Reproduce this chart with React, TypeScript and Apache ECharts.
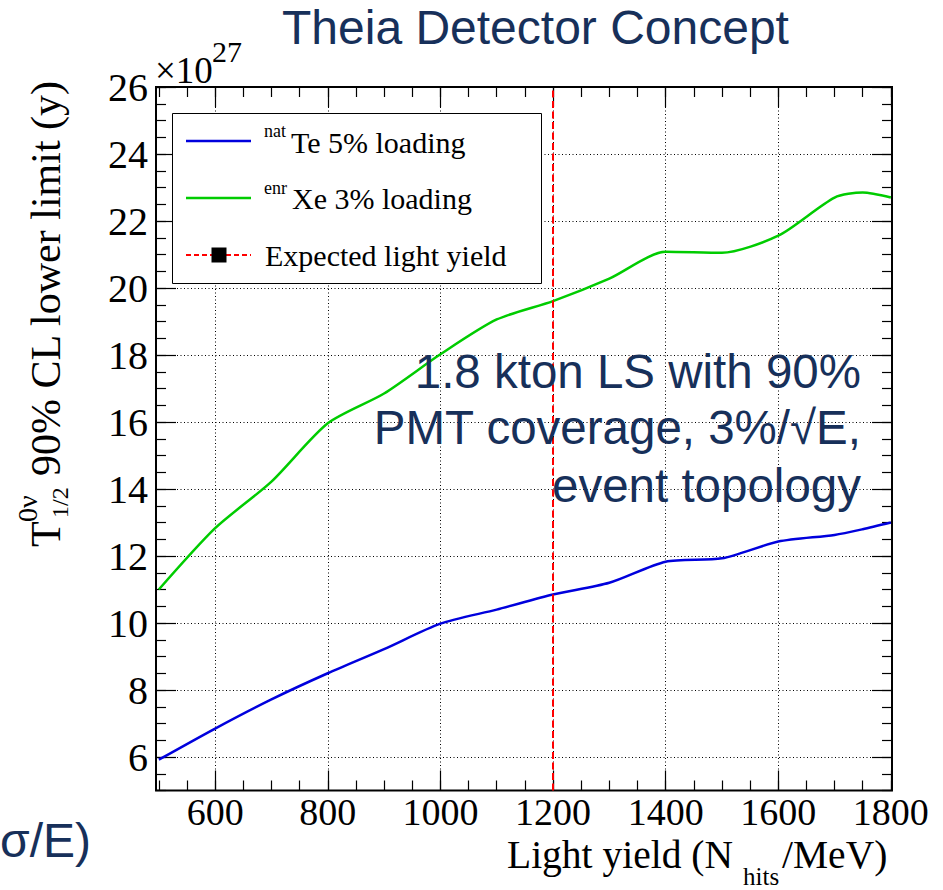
import React, { useEffect, useRef } from 'react';
import * as echarts from 'echarts';

// ---------------- data ----------------
const lightYield = [500, 600, 700, 800, 900, 1000, 1100, 1200, 1300, 1400, 1500, 1600, 1700, 1750, 1800];
const teLoading = [5.92, 6.85, 7.72, 8.5, 9.22, 9.98, 10.4, 10.85, 11.2, 11.83, 11.93, 12.43, 12.63, 12.8, 13.0];
const xeLoading = [11.0, 12.83, 14.22, 15.96, 16.85, 18.02, 19.06, 19.61, 20.28, 21.08, 21.05, 21.56, 22.7, 22.85, 22.7];
const expectedLightYield = 1200;
const expectedSpan = [5, 26];

const xMajorTicks = [600, 800, 1000, 1200, 1400, 1600, 1800];
const xMinorTicks = [500, 550, 600, 650, 700, 750, 800, 850, 900, 950, 1000, 1050, 1100, 1150, 1200, 1250, 1300, 1350, 1400, 1450, 1500, 1550, 1600, 1650, 1700, 1750, 1800];
const yMajorTicks = [6, 8, 10, 12, 14, 16, 18, 20, 22, 24, 26];
const yMinorTicks = [5, 5.5, 6, 6.5, 7, 7.5, 8, 8.5, 9, 9.5, 10, 10.5, 11, 11.5, 12, 12.5, 13, 13.5, 14, 14.5, 15, 15.5, 16, 16.5, 17, 17.5, 18, 18.5, 19, 19.5, 20, 20.5, 21, 21.5, 22, 22.5, 23, 23.5, 24, 24.5, 25, 25.5, 26];
const xGridLines = [600, 800, 1000, 1200, 1400, 1600];
const yGridLines = [6, 8, 10, 12, 14, 16, 18, 20, 22, 24];

const X_MIN = 495;
const X_MAX = 1802;
const Y_MIN = 5;
const Y_MAX = 26;

const serif = '"Liberation Serif", "Times New Roman", serif';
const sans = '"Liberation Sans", Arial, sans-serif';
const navy = '#17305a';

function xAxisDef(position: string, ticks: number[], len: number, labels: boolean) {
  return {
    type: 'value',
    min: X_MIN,
    max: X_MAX,
    position,
    axisLine: { show: false },
    splitLine: { show: false },
    axisTick: { show: true, inside: true, length: len, customValues: ticks, lineStyle: { color: '#000', width: 1.2 } },
    axisLabel: labels
      ? {
          show: true,
          customValues: ticks,
          margin: 6.5,
          fontSize: 38,
          lineHeight: 30,
          fontFamily: serif,
          color: '#000',
          formatter: (v: number) => String(v),
        }
      : { show: false },
  };
}

function yAxisDef(position: string, ticks: number[], len: number, labels: boolean) {
  return {
    type: 'value',
    min: Y_MIN,
    max: Y_MAX,
    position,
    axisLine: { show: false },
    splitLine: { show: false },
    axisTick: { show: true, inside: true, length: len, customValues: ticks, lineStyle: { color: '#000', width: 1.2 } },
    axisLabel: labels
      ? {
          show: true,
          customValues: ticks,
          margin: 8,
          fontSize: 40,
          lineHeight: 32,
          fontFamily: serif,
          color: '#000',
          padding: [5, 0, 0, 0],
          formatter: (v: number) => String(v),
        }
      : { show: false },
  };
}

function txt(text: string, x: number, y: number, size: number, family: string, color: string, align = 'left', rotation = 0, lineHeight?: number) {
  return {
    type: 'text',
    x,
    y,
    rotation,
    silent: true,
    z: 20,
    style: {
      text,
      fontSize: size,
      fontFamily: family,
      fill: color,
      align,
      verticalAlign: 'middle',
      lineHeight: lineHeight || Math.round(size * 1.1),
    },
  };
}

export default function App() {
  const ref = useRef<HTMLDivElement>(null);

  useEffect(() => {
    if (!ref.current) return;
    const chart = echarts.init(ref.current, null, { renderer: 'svg' });
    const R = Math.PI / 2;

    const option: any = {
      animation: false,
      backgroundColor: '#fff',
      grid: {
        left: 156,
        top: 87,
        width: 736,
        height: 703.5,
        show: true,
        borderColor: '#000',
        borderWidth: 2,
        backgroundColor: 'transparent',
        containLabel: false,
        outerBoundsMode: 'none',
      },
      xAxis: [
        xAxisDef('bottom', xMajorTicks, 20, true),
        xAxisDef('bottom', xMinorTicks, 10, false),
        xAxisDef('top', xMajorTicks, 20, false),
        xAxisDef('top', xMinorTicks, 10, false),
      ],
      yAxis: [
        yAxisDef('left', yMajorTicks, 20, true),
        yAxisDef('left', yMinorTicks, 10, false),
        yAxisDef('right', yMajorTicks, 20, false),
        yAxisDef('right', yMinorTicks, 10, false),
      ],
      series: [
        {
          type: 'line',
          name: 'Expected light yield',
          xAxisIndex: 0,
          yAxisIndex: 0,
          data: expectedSpan.map((v) => [expectedLightYield, v]),
          symbol: 'none',
          silent: true,
          z: 4,
          lineStyle: { color: '#ff0000', width: 2, type: [7, 3.5] },
          markLine: {
            silent: true,
            symbol: ['none', 'none'],
            z: 1,
            animation: false,
            label: { show: false },
            lineStyle: { color: '#000', width: 1, type: [1, 2.5], opacity: 1 },
            emphasis: { disabled: true },
            data: [
              ...xGridLines.map((v) => ({ xAxis: v })),
              ...yGridLines.map((v) => ({ yAxis: v })),
            ],
          },
        },
        {
          type: 'line',
          name: 'natTe 5% loading',
          xAxisIndex: 0,
          yAxisIndex: 0,
          data: lightYield.map((x, i) => [x, teLoading[i]]),
          smooth: 0.25,
          symbol: 'none',
          silent: true,
          z: 3,
          lineStyle: { color: '#0000dd', width: 2.5 },
        },
        {
          type: 'line',
          name: 'enrXe 3% loading',
          xAxisIndex: 0,
          yAxisIndex: 0,
          data: lightYield.map((x, i) => [x, xeLoading[i]]),
          smooth: 0.25,
          symbol: 'none',
          silent: true,
          z: 3,
          lineStyle: { color: '#00cc00', width: 2.5 },
        },
      ],
      graphic: [
        // title
        txt('Theia Detector Concept', 282, 27, 48, sans, navy),
        // exponent
        txt('×10', 155, 70, 37, serif, '#000'),
        txt('27', 212, 51.5, 30, serif, '#000'),
        // y axis title (rotated)
        txt('T', 46, 547, 42, serif, '#000', 'left', R),
        txt('0ν', 27.5, 522, 28, serif, '#000', 'left', R),
        txt('1/2', 60, 518, 24, serif, '#000', 'left', R),
        txt('90% CL lower limit (y)', 46, 476, 42, serif, '#000', 'left', R),
        // x axis title
        txt('Light yield (N', 507, 855, 39.5, serif, '#000', 'left', 0, 32),
        txt('hits', 743, 876, 25, serif, '#000', 'left', 0, 22),
        txt('/MeV)', 782, 855, 39.5, serif, '#000', 'left', 0, 32),
        // annotation
        txt('1.8 kton LS with 90%', 861, 371, 47.5, sans, navy, 'right'),
        txt('PMT coverage, 3%/√E,', 861, 427.5, 47.5, sans, navy, 'right'),
        txt('event topology', 861, 485, 47.5, sans, navy, 'right'),
        // slide text at the lower left
        txt('σ/E)', 0, 840, 48, sans, navy, 'left'),
        // legend
        {
          type: 'rect',
          silent: true,
          z: 15,
          shape: { x: 172.5, y: 113.5, width: 369, height: 170 },
          style: { fill: '#fff', stroke: '#000', lineWidth: 1 },
        },
        {
          type: 'line',
          silent: true,
          z: 16,
          shape: { x1: 186, y1: 141, x2: 251, y2: 141 },
          style: { stroke: '#0000dd', lineWidth: 2.5 },
        },
        {
          type: 'line',
          silent: true,
          z: 16,
          shape: { x1: 186, y1: 198, x2: 251, y2: 198 },
          style: { stroke: '#00cc00', lineWidth: 2.5 },
        },
        {
          type: 'line',
          silent: true,
          z: 16,
          shape: { x1: 186, y1: 255, x2: 251, y2: 255 },
          style: { stroke: '#ff0000', lineWidth: 2, lineDash: [5, 3] },
        },
        {
          type: 'rect',
          silent: true,
          z: 17,
          shape: { x: 211.5, y: 247.5, width: 15, height: 15 },
          style: { fill: '#000' },
        },
        txt('nat', 264, 131, 18, serif, '#000'),
        txt('Te 5% loading', 291, 142, 30, serif, '#000'),
        txt('enr', 264, 188, 18, serif, '#000'),
        txt('Xe 3% loading', 292, 198.5, 30, serif, '#000'),
        txt('Expected light yield', 265, 255.5, 30, serif, '#000'),
      ],
    };

    chart.setOption(option);
    return () => chart.dispose();
  }, []);

  return (
    <div
      ref={ref}
      style={{ position: 'absolute', left: 0, top: 0, width: 943, height: 890, background: '#fff' }}
    />
  );
}
